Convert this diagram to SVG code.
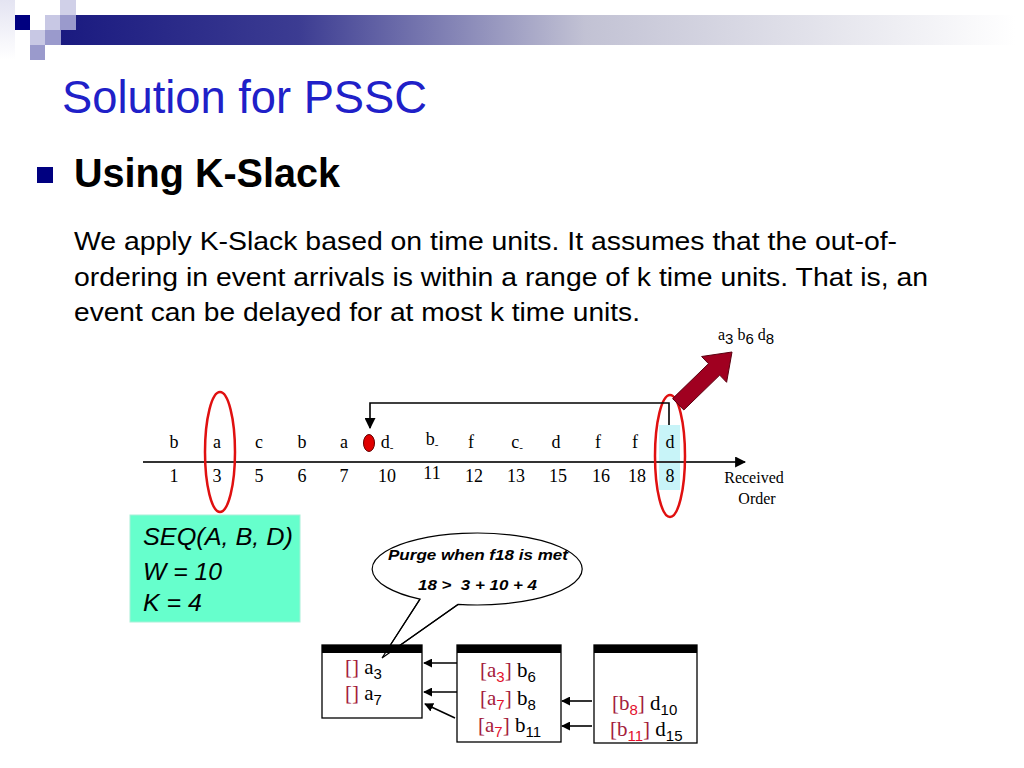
<svg xmlns="http://www.w3.org/2000/svg" width="1024" height="768" viewBox="0 0 1024 768">
<defs>
<linearGradient id="bar" x1="60" y1="0" x2="1015" y2="0" gradientUnits="userSpaceOnUse">
<stop offset="0" stop-color="#1a1a80"/>
<stop offset="0.25" stop-color="#3c3c92"/>
<stop offset="0.55" stop-color="#c2c2d4"/>
<stop offset="1" stop-color="#ffffff"/>
</linearGradient>
<linearGradient id="fade" x1="0" y1="0" x2="0" y2="1">
<stop offset="0" stop-color="#e4e4f2"/>
<stop offset="1" stop-color="#ffffff"/>
</linearGradient>
<marker id="ah" viewBox="0 0 10 10" refX="9" refY="5" markerWidth="9" markerHeight="9" markerUnits="userSpaceOnUse" orient="auto">
<path d="M0,0 L10,5 L0,10 Z" fill="#000"/>
</marker>
<marker id="ahs" viewBox="0 0 10 10" refX="9" refY="5" markerWidth="11" markerHeight="11" markerUnits="userSpaceOnUse" orient="auto">
<path d="M0,0 L10,5 L0,10 Z" fill="#000"/>
</marker>
<style>
.ser{font-family:"Liberation Serif","Times New Roman",serif;}
.san{font-family:"Liberation Sans",Arial,sans-serif;}
.tl{font-family:"Liberation Serif","Times New Roman",serif;font-size:18px;text-anchor:middle;fill:#000;}
.st{font-family:"Liberation Serif","Times New Roman",serif;font-size:21px;fill:#000;}
.sub{font-family:"Liberation Sans",Arial,sans-serif;font-size:15px;}
.br{fill:#a3203c;}
.rs{fill:#e4102c;}
.box{fill:#fff;stroke:#000;stroke-width:1.3;}
.hdr{fill:#000;}
.oval{fill:none;stroke:#e01010;stroke-width:2.5;}
.conn{fill:none;stroke:#000;stroke-width:1.6;}
</style>
</defs>

<g id="decoration">
<rect x="0" y="0" width="15" height="60" fill="url(#fade)"/>
<rect x="60" y="15" width="955" height="30" fill="url(#bar)"/>
<rect x="15" y="15" width="15" height="15" fill="#000080"/>
<rect x="45" y="15" width="15" height="15" fill="#c8c8e4"/>
<rect x="60" y="15" width="16" height="15" fill="#9a9acc"/>
<rect x="60" y="0" width="16" height="15" fill="#d0d0e8"/>
<rect x="30" y="30" width="15" height="15" fill="#c8c8e4"/>
<rect x="45" y="30" width="16" height="15" fill="#9a9acc"/>
<rect x="30" y="45" width="15" height="15" fill="#9a9acc"/>
</g>

<g id="title">
<text x="62" y="113" class="san" font-size="46" textLength="365" lengthAdjust="spacingAndGlyphs" fill="#2020c8">Solution for PSSC</text>
</g>

<g id="bullet">
<rect x="37" y="167" width="16" height="16" fill="#000080"/>
<text x="74" y="187" class="san" font-size="40" font-weight="bold" textLength="266" lengthAdjust="spacingAndGlyphs" fill="#000">Using K-Slack</text>
</g>

<g id="paragraph" class="san" font-size="25" fill="#000">
<text x="74" y="250" textLength="823" lengthAdjust="spacingAndGlyphs">We apply K-Slack based on time units. It assumes that the out-of-</text>
<text x="74" y="286" textLength="854" lengthAdjust="spacingAndGlyphs">ordering in event arrivals is within a range of k time units. That is, an</text>
<text x="74" y="321" textLength="566" lengthAdjust="spacingAndGlyphs">event can be delayed for at most k time units.</text>
</g>

<g id="timeline">
<rect x="659" y="425" width="21" height="65" fill="#c8f4f8"/>
<line x1="143" y1="462" x2="745" y2="462" stroke="#333" stroke-width="2" marker-end="url(#ahs)"/>
<text class="tl" x="174" y="448">b</text>
<text class="tl" x="217" y="448">a</text>
<text class="tl" x="259" y="448">c</text>
<text class="tl" x="302" y="448">b</text>
<text class="tl" x="344" y="448">a</text>
<text class="tl" x="387" y="448">d<tspan font-size="11" dy="3">-</tspan></text>
<text class="tl" x="432" y="445">b<tspan font-size="11" dy="3">-</tspan></text>
<text class="tl" x="471" y="448">f</text>
<text class="tl" x="517" y="448">c<tspan font-size="11" dy="3">-</tspan></text>
<text class="tl" x="556" y="448">d</text>
<text class="tl" x="598" y="448">f</text>
<text class="tl" x="635" y="448">f</text>
<text class="tl" x="670" y="448" fill="#cc2233">d</text>
<text class="tl" x="174" y="482">1</text>
<text class="tl" x="217" y="482">3</text>
<text class="tl" x="259" y="482">5</text>
<text class="tl" x="302" y="482">6</text>
<text class="tl" x="344" y="482">7</text>
<text class="tl" x="387" y="482">10</text>
<text class="tl" x="432" y="479">11</text>
<text class="tl" x="474" y="482">12</text>
<text class="tl" x="516" y="482">13</text>
<text class="tl" x="558" y="482">15</text>
<text class="tl" x="601" y="482">16</text>
<text class="tl" x="637" y="482">18</text>
<text class="tl" x="670" y="482" fill="#cc2233">8</text>
<text class="ser" x="754" y="483" font-size="16" text-anchor="middle">Received</text>
<text class="ser" x="757" y="504" font-size="16" text-anchor="middle">Order</text>
<ellipse cx="369" cy="443" rx="5.5" ry="8.5" fill="#e00000" stroke="#600" stroke-width="1"/>
<ellipse class="oval" cx="220" cy="452" rx="15" ry="60"/>
<ellipse class="oval" cx="670" cy="456" rx="15" ry="61"/>
</g>

<g id="connectors">
<polyline class="conn" stroke-width="1.3" points="669,425 669,403 370,403 370,428" marker-end="url(#ahs)"/>
<line class="conn" x1="457" y1="663" x2="424" y2="663" marker-end="url(#ah)"/>
<line class="conn" x1="457" y1="692" x2="424" y2="692" marker-end="url(#ah)"/>
<line class="conn" x1="455" y1="718" x2="425" y2="704" marker-end="url(#ah)"/>
<line class="conn" x1="592" y1="701" x2="562" y2="701" marker-end="url(#ah)"/>
<line class="conn" x1="592" y1="726" x2="562" y2="726" marker-end="url(#ah)"/>
</g>

<g id="big-arrow">
<polygon points="732,352 726.6,382.3 719.7,375.1 683.8,410 672.6,398.6 708.5,363.7 701.6,356.5" fill="#a00020" stroke="#5a0010" stroke-width="1"/>
<text class="ser" x="718" y="340" font-size="16">a<tspan class="sub" font-size="13" dy="4">3</tspan><tspan dy="-4"> b</tspan><tspan class="sub" font-size="13" dy="4">6</tspan><tspan dy="-4"> d</tspan><tspan class="sub" font-size="13" dy="4">8</tspan></text>
</g>

<g id="seq-box">
<rect x="130" y="515" width="170" height="107" fill="#66ffcc" stroke="#a8f0d8" stroke-width="1"/>
<g class="san" font-size="23" font-style="italic" fill="#000">
<text x="143" y="545" textLength="150" lengthAdjust="spacingAndGlyphs">SEQ(A, B, D)</text>
<text x="143" y="580" textLength="79" lengthAdjust="spacingAndGlyphs">W = 10</text>
<text x="143" y="611" textLength="59" lengthAdjust="spacingAndGlyphs">K = 4</text>
</g>
</g>

<g id="callout">
<path d="M420,599.2 L382,658 L458,604.4 A105,36 0 1 0 420,599.2 Z" fill="#fff" stroke="#000" stroke-width="1.2"/>
<text class="san" x="388" y="560" font-size="15" font-weight="bold" font-style="italic" textLength="180" lengthAdjust="spacingAndGlyphs">Purge when f18 is met</text>
<text class="san" x="418" y="590" font-size="15" font-weight="bold" font-style="italic" textLength="119" lengthAdjust="spacingAndGlyphs" xml:space="preserve">18 &gt;  3 + 10 + 4</text>
</g>

<g id="stack-a">
<rect class="box" x="322" y="645" width="100" height="73"/>
<rect class="hdr" x="322" y="645" width="100" height="8"/>
<path d="M420,599.2 L382,658 L458,604.4" fill="none" stroke="#000" stroke-width="1.2"/>
<text class="st" x="345" y="674"><tspan class="br">[]</tspan> a<tspan class="sub" dy="5">3</tspan></text>
<text class="st" x="345" y="700"><tspan class="br">[]</tspan> a<tspan class="sub" dy="5">7</tspan></text>
</g>

<g id="stack-b">
<rect class="box" x="457" y="645" width="104" height="97"/>
<rect class="hdr" x="457" y="645" width="104" height="8"/>
<text class="st" x="480" y="677"><tspan class="br">[a</tspan><tspan class="sub rs" dy="5">3</tspan><tspan class="br" dy="-5">]</tspan> b<tspan class="sub" dy="5">6</tspan></text>
<text class="st" x="480" y="705"><tspan class="br">[a</tspan><tspan class="sub rs" dy="5">7</tspan><tspan class="br" dy="-5">]</tspan> b<tspan class="sub" dy="5">8</tspan></text>
<text class="st" x="478" y="732"><tspan class="br">[a</tspan><tspan class="sub rs" dy="5">7</tspan><tspan class="br" dy="-5">]</tspan> b<tspan class="sub" dy="5">11</tspan></text>
</g>

<g id="stack-c">
<rect class="box" x="594" y="645" width="103" height="98"/>
<rect class="hdr" x="594" y="645" width="103" height="8"/>
<text class="st" x="612" y="710"><tspan class="br">[b</tspan><tspan class="sub rs" dy="5">8</tspan><tspan class="br" dy="-5">]</tspan> d<tspan class="sub" dy="5">10</tspan></text>
<text class="st" x="610" y="736"><tspan class="br">[b</tspan><tspan class="sub rs" dy="5">11</tspan><tspan class="br" dy="-5">]</tspan> d<tspan class="sub" dy="5">15</tspan></text>
</g>
</svg>
